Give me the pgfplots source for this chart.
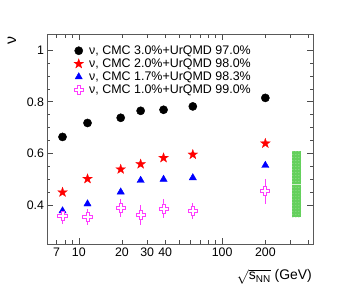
\documentclass[border=0pt]{standalone}
\usepackage{pgfplots}
\pgfplotsset{compat=1.18}
\usetikzlibrary{patterns,calc}
\usepackage{fontspec}
\setmainfont{Liberation Sans}
\definecolor{bandgreen}{RGB}{100,208,92}
\definecolor{rootmag}{RGB}{255,60,255}
\pgfdeclareplotmark{fstar}{%
\pgfpathmoveto{\pgfpointpolar{90}{\pgfplotmarksize}}%
\pgfpathlineto{\pgfpointpolar{126}{0.4\pgfplotmarksize}}%
\pgfpathlineto{\pgfpointpolar{162}{\pgfplotmarksize}}%
\pgfpathlineto{\pgfpointpolar{198}{0.4\pgfplotmarksize}}%
\pgfpathlineto{\pgfpointpolar{234}{\pgfplotmarksize}}%
\pgfpathlineto{\pgfpointpolar{270}{0.4\pgfplotmarksize}}%
\pgfpathlineto{\pgfpointpolar{306}{\pgfplotmarksize}}%
\pgfpathlineto{\pgfpointpolar{342}{0.4\pgfplotmarksize}}%
\pgfpathlineto{\pgfpointpolar{18}{\pgfplotmarksize}}%
\pgfpathlineto{\pgfpointpolar{54}{0.4\pgfplotmarksize}}%
\pgfpathclose\pgfusepathqfillstroke}
\pgfdeclareplotmark{opencross}{%
\pgfmathsetlengthmacro\mka{\pgfplotmarksize}%
\pgfmathsetlengthmacro\mkb{\pgfplotmarksize/3}%
\pgfpathmoveto{\pgfpoint{-\mkb}{\mka}}%
\pgfpathlineto{\pgfpoint{\mkb}{\mka}}%
\pgfpathlineto{\pgfpoint{\mkb}{\mkb}}%
\pgfpathlineto{\pgfpoint{\mka}{\mkb}}%
\pgfpathlineto{\pgfpoint{\mka}{-\mkb}}%
\pgfpathlineto{\pgfpoint{\mkb}{-\mkb}}%
\pgfpathlineto{\pgfpoint{\mkb}{-\mka}}%
\pgfpathlineto{\pgfpoint{-\mkb}{-\mka}}%
\pgfpathlineto{\pgfpoint{-\mkb}{-\mkb}}%
\pgfpathlineto{\pgfpoint{-\mka}{-\mkb}}%
\pgfpathlineto{\pgfpoint{-\mka}{\mkb}}%
\pgfpathlineto{\pgfpoint{-\mkb}{\mkb}}%
\pgfpathclose\pgfusepathqfillstroke}
\begin{document}
\begin{tikzpicture}
\path[use as bounding box] (-47bp,-48bp) rectangle (308bp,244bp);
\begin{axis}[
  name=ax,
  scale only axis, width=266bp, height=210bp,
  xmode=log, xmin=6, xmax=430, ymin=0.25, ymax=1.062,
  axis line style={black!65, line width=0.8pt},
  tick style={black!70, line width=0.6pt},
  tick align=inside, major tick length=6bp, minor tick length=3.5bp,
  xtick={10,100}, xticklabels={10,100},
  extra x ticks={7,20,30,40,200}, extra x tick labels={7,20,30,40,200},
  extra x tick style={major tick length=3.5bp},
  minor xtick={6,8,9,50,60,70,80,90,300,400},
  ytick={0.4,0.6,0.8,1}, yticklabels={0.4,0.6,0.8,1},
  minor y tick num=3,
  /pgf/number format/assume math mode=true,
  tick label style={font=\fontsize{12.4}{13}\selectfont},
  xticklabel style={yshift=-0.5bp},
  yticklabel style={xshift=0.5bp},
  legend style={at={(axis description cs:0.1,0.955)}, anchor=north west, draw=none, fill=none,
    font=\fontsize{12.5}{13}\selectfont, row sep=-1.1bp, column sep=3.5bp, inner sep=0pt},
  legend cell align=left,
]
\addplot[only marks, mark=*, mark size=4.1bp, black] coordinates {
 (7.7,0.664) (11.5,0.718) (19.6,0.738) (27,0.765) (39,0.769) (62.4,0.782) (200,0.815)};
\addlegendentry{ν, CMC 3.0\%+UrQMD 97.0\%}
\addplot[only marks, mark=fstar, mark size=5.2bp, red, mark options={fill=red, draw=red, line width=0.2pt}] coordinates {
 (7.7,0.450) (11.5,0.502) (19.6,0.539) (27,0.559) (39,0.583) (62.4,0.596) (200,0.639)};
\addlegendentry{ν, CMC 2.0\%+UrQMD 98.0\%}
\addplot[only marks, mark=triangle*, mark size=4.2bp, blue] coordinates {
 (7.7,0.378) (11.5,0.405) (19.6,0.451) (27,0.496) (39,0.500) (62.4,0.506) (200,0.554)};
\addlegendentry{ν, CMC 1.7\%+UrQMD 98.3\%}
\addplot[only marks, mark=opencross, mark size=4.6bp, rootmag, line width=0.9pt,
  mark options={fill=white, draw=rootmag},
  error bars/.cd, y dir=both, y explicit, error bar style={rootmag, line width=0.9pt}, error mark=none]
 coordinates {
 (7.7,0.357) +- (0,0.030)
 (11.5,0.354) +- (0,0.032)
 (19.6,0.390) +- (0,0.035)
 (27,0.362) +- (0,0.037)
 (39,0.387) +- (0,0.037)
 (62.4,0.378) +- (0,0.032)
 (200,0.454) +- (0,0.048)};
\addlegendentry{ν, CMC 1.0\%+UrQMD 99.0\%}
\addplot[forget plot, fill=bandgreen, draw=none] coordinates {
 (305,0.354) (357,0.354) (357,0.609) (305,0.609)} -- cycle;
\addplot[forget plot, draw=none, pattern=dots, pattern color=white!45!bandgreen] coordinates {
 (305,0.354) (357,0.354) (357,0.609) (305,0.609)} -- cycle;
\addplot[forget plot, white!70!bandgreen, line width=0.5pt] coordinates {(305,0.480) (357,0.480)};
\end{axis}
\node[rotate=90, font=\fontsize{16}{16}\selectfont] at ($(ax.south west)+(-35bp,203bp)$) {ν};
\node[anchor=east, font=\fontsize{14}{15}\selectfont, inner sep=0pt] at ($(ax.south east)+(-1bp,-32.5bp)$)
  {$\sqrt{\mbox{s}_{\mbox{\fontsize{10}{10}\selectfont NN}}}$ (GeV)};
\end{tikzpicture}
\end{document}
